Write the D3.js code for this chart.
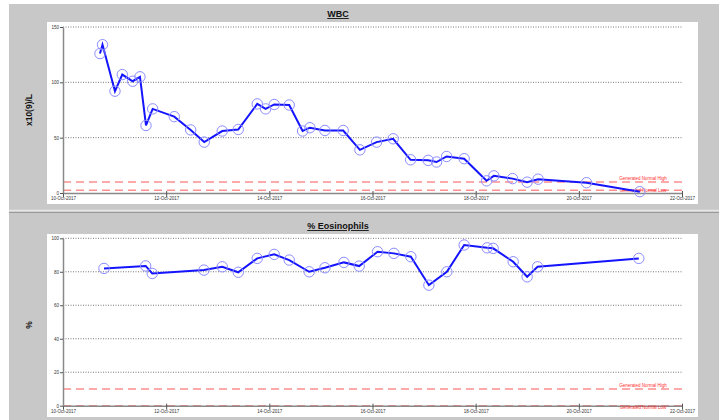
<!DOCTYPE html>
<html><head><meta charset="utf-8">
<script src="https://cdn.jsdelivr.net/npm/d3@7"></script>
<style>
html,body{margin:0;padding:0;background:#fff;}
svg{display:block;font-family:Arial,"Liberation Sans",sans-serif;}
</style></head>
<body><svg id="c" width="719" height="420"></svg>
<script>
// ---- data ----
const wbcDates = ["2017-10-10T17:12","2017-10-10T18:23","2017-10-11T00:11","2017-10-11T03:35","2017-10-11T08:25","2017-10-11T11:49","2017-10-11T14:37","2017-10-11T17:43","2017-10-12T03:46","2017-10-12T11:24","2017-10-12T17:43","2017-10-13T02:05","2017-10-13T09:32","2017-10-13T18:23","2017-10-13T22:16","2017-10-14T02:17","2017-10-14T09:15","2017-10-14T15:29","2017-10-14T18:53","2017-10-15T01:52","2017-10-15T10:22","2017-10-15T18:08","2017-10-16T01:54","2017-10-16T09:37","2017-10-16T17:43","2017-10-17T01:54","2017-10-17T05:49","2017-10-17T10:28","2017-10-17T18:39","2017-10-18T05:04","2017-10-18T08:28","2017-10-18T17:10","2017-10-18T23:57","2017-10-19T05:04","2017-10-20T03:35","2017-10-21T04:22"];
const wbcValues = [126,134,92,107,101,105,61,76,69,57,46,56,57.4,80.5,76,80,79.5,56,59,56.5,56.5,39,46,49,30,29.5,28,33,31,11,15.5,13,9.8,12.5,9.3,1.2];
const eosDates = ["2017-10-10T19:04","2017-10-11T14:28","2017-10-11T17:32","2017-10-12T17:35","2017-10-13T02:05","2017-10-13T09:32","2017-10-13T18:23","2017-10-14T02:17","2017-10-14T09:15","2017-10-14T18:33","2017-10-15T01:52","2017-10-15T10:42","2017-10-15T17:49","2017-10-16T02:22","2017-10-16T09:57","2017-10-16T17:51","2017-10-17T02:14","2017-10-17T10:36","2017-10-17T18:39","2017-10-18T05:21","2017-10-18T08:08","2017-10-18T17:27","2017-10-18T23:57","2017-10-19T04:48","2017-10-21T03:54"];
const eosValues = [82,83.5,79,81,83,79.7,88,90.4,87,80,82.4,85.6,83.4,92,91,89,72,80,96,94.3,94,86,77,83,88];
const xTickDates = ["2017-10-10","2017-10-12","2017-10-14","2017-10-16","2017-10-18","2017-10-20","2017-10-22"];
const wbcTicks = [0,50,100,150];
const eosTicks = [0,20,40,60,80,100];
const wbcNormal = {high:10, low:2.5};
const eosNormal = {high:10, low:0};
const titles = ["WBC","% Eosinophils"];
const yLabels = ["x10(9)/L","%"];

// ---- drawing ----
const svg = d3.select("#c");
const parseT = d3.timeParse("%Y-%m-%dT%H:%M");
const parseD = d3.timeParse("%Y-%m-%d");
const fmt = d3.timeFormat("%d-%b-%Y");

svg.append("rect").attr("x",9).attr("y",4).attr("width",710).attr("height",416).attr("fill","#c8c8c8");
svg.append("line").attr("x1",9).attr("x2",719).attr("y1",210.5).attr("y2",210.5).attr("stroke","#e6e6e6").attr("stroke-width",1.5);
svg.append("line").attr("x1",9).attr("x2",719).attr("y1",212.5).attr("y2",212.5).attr("stroke","#9a9a9a").attr("stroke-width",1);

const panels = [
  {title:titles[0], ylab:yLabels[0], dates:wbcDates, vals:wbcValues, ticks:wbcTicks, max:150, normal:wbcNormal,
   titleY:14, box:[47,22,651,182], y0:193, y1:27, ylabY:110},
  {title:titles[1], ylab:yLabels[1], dates:eosDates, vals:eosValues, ticks:eosTicks, max:100, normal:eosNormal,
   titleY:226, box:[47,234,651,183], y0:405.7, y1:238.3, ylabY:325}
];

const x = d3.scaleTime().domain([parseD(xTickDates[0]), parseD(xTickDates[xTickDates.length-1])]).range([63,682]);

panels.forEach(p => {
  const g = svg.append("g");
  g.append("text").attr("x",338).attr("y",p.titleY+3).attr("text-anchor","middle")
    .attr("font-size",9).attr("font-weight","bold").attr("text-decoration","underline").attr("fill","#111").text(p.title);
  g.append("rect").attr("x",p.box[0]).attr("y",p.box[1]).attr("width",p.box[2]).attr("height",p.box[3]).attr("fill","#fff");
  const y = d3.scaleLinear().domain([0,p.max]).range([p.y0,p.y1]);

  g.append("text").attr("transform",`translate(32,${p.ylabY}) rotate(-90)`).attr("text-anchor","middle")
    .attr("font-size",8.5).attr("font-weight","bold").attr("fill","#111").text(p.ylab);

  // grid
  g.selectAll(".grid").data(p.ticks.filter(t=>t>0)).join("line")
    .attr("x1",x.range()[0]).attr("x2",x.range()[1])
    .attr("y1",d=>y(d)).attr("y2",d=>y(d))
    .attr("stroke","#555").attr("stroke-width",0.8).attr("stroke-dasharray","1,1.5");

  // normal lines
  [["high",p.normal.high],["low",p.normal.low]].forEach(([k,v])=>{
    g.append("line").attr("x1",x.range()[0]).attr("x2",x.range()[1]).attr("y1",y(v)).attr("y2",y(v))
      .attr("stroke","#ff8f8f").attr("stroke-width",1.5).attr("stroke-dasharray","8,5");
  });

  // axes
  const xa = g.append("g").attr("transform",`translate(0,${p.y0})`)
    .call(d3.axisBottom(x).tickValues(xTickDates.map(parseD)).tickFormat(fmt).tickSize(4).tickSizeOuter(0));
  xa.select(".domain").attr("stroke","#888").attr("stroke-width",1.5);
  xa.selectAll(".tick line").attr("y1",-2).attr("stroke","#555");
  xa.selectAll(".tick text").attr("font-size",4.5).attr("fill","#333").attr("dy","0.9em").attr("y",3);

  const ya = g.append("g").attr("transform","translate(63,0)")
    .call(d3.axisLeft(y).tickValues(p.ticks).tickSize(3).tickSizeOuter(0));
  ya.select(".domain").attr("stroke","#888").attr("stroke-width",1.5);
  ya.selectAll(".tick line").attr("stroke","#555");
  ya.selectAll(".tick text").attr("font-size",4.5).attr("fill","#333").attr("x",-4);

  // normal labels
  g.append("text").attr("x",643).attr("y",y(p.normal.high)-2).attr("text-anchor","middle")
    .attr("font-size",4.5).attr("fill","#ff3030").text("Generated Normal High");
  g.append("text").attr("x",643).attr("y",p.normal.low===0 ? y(0)+3 : y(p.normal.low)+2).attr("text-anchor","middle")
    .attr("font-size",4.5).attr("fill","#ff3030").text("Generated Normal Low");

  const data = p.dates.map((d,i)=>({t:parseT(d), v:p.vals[i]}));
  g.append("path").datum(data).attr("fill","none").attr("stroke","#1414ff").attr("stroke-width",2)
    .attr("d", d3.line().x(d=>x(d.t)).y(d=>y(d.v)));
  g.selectAll(".pt").data(data).join("circle")
    .attr("cx",d=>x(d.t)).attr("cy",d=>y(d.v)).attr("r",5.2)
    .attr("fill","none").attr("stroke","#8c8cff").attr("stroke-width",1);
});
</script></body></html>
